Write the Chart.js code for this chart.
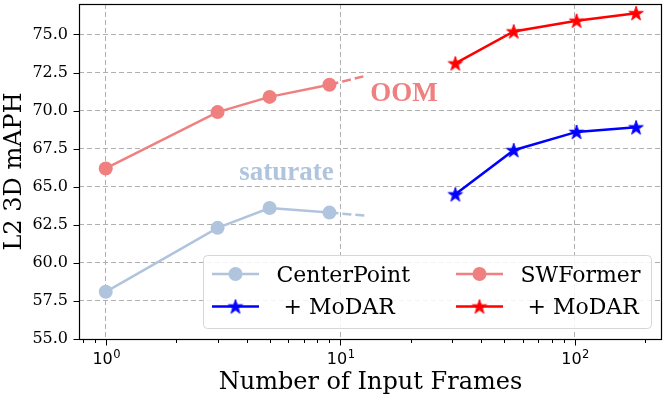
<!DOCTYPE html>
<html>
<head>
<meta charset="utf-8">
<script src="https://cdn.jsdelivr.net/npm/chart.js@4/dist/chart.umd.min.js"></script>
<style>
html, body { margin: 0; padding: 0; background: #fff; }
</style>
</head>
<body>
<canvas id="frames_chart" width="665" height="398"></canvas>
<script>
const framesBase = [1, 3, 5, 9]
const centerpoint = [58.1, 62.3, 63.6, 63.3]
const swformer = [66.2, 69.9, 70.9, 71.7]
const framesModar = [31, 55, 102, 183]
const centerpointModar = [64.5, 67.4, 68.6, 68.9]
const swformerModar = [73.1, 75.2, 75.9, 76.4]
const framesExtra = [9, 13]
const centerpointExtra = [63.3, 63.1]
const swformerExtra = [71.7, 72.3]

const yTicks = [55, 57.5, 60, 62.5, 65, 67.5, 70, 72.5, 75]
const xMajor = [1, 10, 100]
const xMinor = [0.8, 0.9, 2, 3, 4, 5, 6, 7, 8, 9, 20, 30, 40, 50, 60, 70, 80, 90, 200]
const xExponents = { 1: '0', 10: '1', 100: '2' }

const notes = [
	{ text: 'OOM', x: 18.7, y: 70.64, color: '#f08080' },
	{ text: 'saturate', x: 5.9, y: 65.44, color: '#b0c4de' }
]

const pares = (xs, ys) => xs.map((x, i) => ({ x: x, y: ys[i] }))

// filled five point star, like the matplotlib '*' marker
const hacerEstrella = (color) => {
	const c = document.createElement('canvas')
	c.width = 20
	c.height = 20
	const g = c.getContext('2d')
	const R = 7.6
	const r = R * 0.382
	g.beginPath()
	for (let i = 0; i < 10; i++) {
		const rad = i % 2 === 0 ? R : r
		const a = -Math.PI / 2 + i * Math.PI / 5
		const px = 10 + rad * Math.cos(a)
		const py = 10.6 + rad * Math.sin(a)
		if (i === 0) g.moveTo(px, py)
		else g.lineTo(px, py)
	}
	g.closePath()
	g.fillStyle = color
	g.fill()
	g.lineWidth = 1
	g.strokeStyle = color
	g.stroke()
	return c
}

const estrellaAzul = hacerEstrella('#0000ff')
const estrellaRoja = hacerEstrella('#ff0000')

const leyenda = [
	{ label: 'CenterPoint', color: '#b0c4de', marker: 'circle', col: 0, row: 0 },
	{ label: ' + MoDAR', color: '#0000ff', marker: estrellaAzul, col: 0, row: 1 },
	{ label: 'SWFormer', color: '#f08080', marker: 'circle', col: 1, row: 0 },
	{ label: ' + MoDAR', color: '#ff0000', marker: estrellaRoja, col: 1, row: 1 }
]

const extras = {
	id: 'extras',
	afterDraw(chart) {
		const ctx = chart.ctx
		const a = chart.chartArea
		const xs = chart.scales.x
		const ys = chart.scales.y
		ctx.save()

		// annotations
		notes.forEach(n => {
			ctx.font = 'bold 27px "Liberation Serif"'
			ctx.fillStyle = n.color
			ctx.textAlign = 'center'
			ctx.textBaseline = 'alphabetic'
			ctx.fillText(n.text, xs.getPixelForValue(n.x), ys.getPixelForValue(n.y))
		})

		// frame
		ctx.strokeStyle = '#000'
		ctx.lineWidth = 1.2
		ctx.strokeRect(a.left + 0.5, a.top + 0.5, a.right - a.left - 1, a.bottom - a.top)

		// tick marks
		ctx.lineWidth = 1
		ctx.beginPath()
		xMajor.concat(xMinor).forEach(v => {
			const px = Math.round(xs.getPixelForValue(v)) + 0.5
			const len = xMajor.includes(v) ? 6 : 3.5
			ctx.moveTo(px, a.bottom + 0.5)
			ctx.lineTo(px, a.bottom + 0.5 + len)
		})
		yTicks.forEach(v => {
			const py = Math.round(ys.getPixelForValue(v)) + 0.5
			ctx.moveTo(a.left + 0.5, py)
			ctx.lineTo(a.left + 0.5 - 6, py)
		})
		ctx.stroke()

		// x tick labels as 10 with a raised exponent
		ctx.fillStyle = '#000'
		ctx.textBaseline = 'alphabetic'
		ctx.textAlign = 'left'
		xMajor.forEach(v => {
			const px = xs.getPixelForValue(v)
			ctx.font = '16px "DejaVu Sans"'
			const wBase = ctx.measureText('10').width
			ctx.font = '11.5px "DejaVu Sans"'
			const wExp = ctx.measureText(xExponents[v]).width
			const x0 = px - (wBase + wExp) / 2 + 0.5
			ctx.font = '16px "DejaVu Sans"'
			ctx.fillText('10', x0, a.bottom + 25)
			ctx.font = '11.5px "DejaVu Sans"'
			ctx.fillText(xExponents[v], x0 + wBase + 0.5, a.bottom + 18.5)
		})

		// legend
		const bx = 203, by = 255, bw = 448, bh = 73
		ctx.beginPath()
		ctx.roundRect(bx + 0.5, by + 0.5, bw, bh, 4)
		ctx.fillStyle = 'rgba(255,255,255,0.85)'
		ctx.fill()
		ctx.strokeStyle = '#d6d6d6'
		ctx.lineWidth = 1
		ctx.stroke()

		leyenda.forEach(it => {
			const x0 = it.col === 0 ? 212 : 456
			const cy = it.row === 0 ? 274 : 306.5
			ctx.strokeStyle = it.color
			ctx.lineWidth = 2.5
			ctx.beginPath()
			ctx.moveTo(x0, cy)
			ctx.lineTo(x0 + 47, cy)
			ctx.stroke()
			if (it.marker === 'circle') {
				ctx.fillStyle = it.color
				ctx.beginPath()
				ctx.arc(x0 + 23.5, cy, 7, 0, Math.PI * 2)
				ctx.fill()
			} else {
				ctx.drawImage(it.marker, x0 + 23.5 - 10, cy - 10)
			}
			ctx.fillStyle = '#000'
			ctx.font = '22px "DejaVu Serif"'
			ctx.textAlign = 'left'
			ctx.textBaseline = 'alphabetic'
			ctx.fillText(it.label, x0 + 64.5, cy + 7.8)
		})

		ctx.restore()
	}
}

const grafico = () => {
	const data = {
		datasets: [
			{
				label: 'CenterPoint',
				data: pares(framesBase, centerpoint),
				borderColor: '#b0c4de',
				backgroundColor: '#b0c4de',
				borderWidth: 2.5,
				pointRadius: 7,
				pointBorderWidth: 0
			},
			{
				label: 'SWFormer',
				data: pares(framesBase, swformer),
				borderColor: '#f08080',
				backgroundColor: '#f08080',
				borderWidth: 2.5,
				pointRadius: 7,
				pointBorderWidth: 0
			},
			{
				label: ' + MoDAR',
				data: pares(framesModar, centerpointModar),
				borderColor: '#0000ff',
				backgroundColor: '#0000ff',
				borderWidth: 2.5,
				pointStyle: estrellaAzul
			},
			{
				label: ' + MoDAR',
				data: pares(framesModar, swformerModar),
				borderColor: '#ff0000',
				backgroundColor: '#ff0000',
				borderWidth: 2.5,
				pointStyle: estrellaRoja
			},
			{
				label: 'cp_extra',
				data: pares(framesExtra, centerpointExtra),
				borderColor: '#b0c4de',
				borderWidth: 2.5,
				borderDash: [9, 4],
				pointRadius: 0
			},
			{
				label: 'sw_extra',
				data: pares(framesExtra, swformerExtra),
				borderColor: '#f08080',
				borderWidth: 2.5,
				borderDash: [9, 4],
				pointRadius: 0
			}
		]
	}

	const ctx = document.getElementById('frames_chart').getContext('2d')

	const chart = new Chart(ctx, {
		type: 'line',
		data: data,
		plugins: [extras],
		options: {
			responsive: false,
			animation: false,
			devicePixelRatio: 1,
			layout: { autoPadding: false, padding: { top: 4, right: 3, left: 0, bottom: 0 } },
			plugins: {
				legend: { display: false },
				tooltip: { enabled: false }
			},
			scales: {
				x: {
					type: 'logarithmic',
					min: 0.769,
					max: 236,
					afterFit: s => {
						s.height = 59
						s.paddingLeft = 0
						s.paddingRight = 0
					},
					afterBuildTicks: s => {
						s.ticks = xMajor.concat(xMinor).sort((p, q) => p - q).map(v => ({ value: v }))
					},
					grid: {
						color: c => (c.tick && xMajor.includes(c.tick.value)) ? '#b0b0b0' : 'rgba(0,0,0,0)',
						lineWidth: 1,
						drawTicks: false
					},
					border: { display: false, dash: [5, 3] },
					ticks: { display: false, autoSkip: false, maxRotation: 0 },
					title: {
						display: true,
						text: 'Number of Input Frames',
						color: '#000',
						font: { family: '"DejaVu Serif"', size: 24 },
						padding: { top: 0, bottom: 1 }
					}
				},
				y: {
					min: 55,
					max: 77,
					afterFit: s => {
						s.width = 79
						s.paddingTop = 0
						s.paddingBottom = 0
					},
					afterBuildTicks: s => {
						s.ticks = yTicks.map(v => ({ value: v }))
					},
					grid: {
						color: '#b0b0b0',
						lineWidth: 1,
						drawTicks: false
					},
					border: { display: false, dash: [5, 3] },
					ticks: {
						padding: 11,
						color: '#000',
						font: { family: '"DejaVu Serif"', size: 16 },
						callback: v => Number(v).toFixed(1)
					},
					title: {
						display: true,
						text: 'L2 3D mAPH',
						color: '#000',
						font: { family: '"DejaVu Serif"', size: 24, lineHeight: 1.25 },
						padding: 0
					}
				}
			}
		}
	})
}

window.addEventListener('load', grafico)
</script>
</body>
</html>
